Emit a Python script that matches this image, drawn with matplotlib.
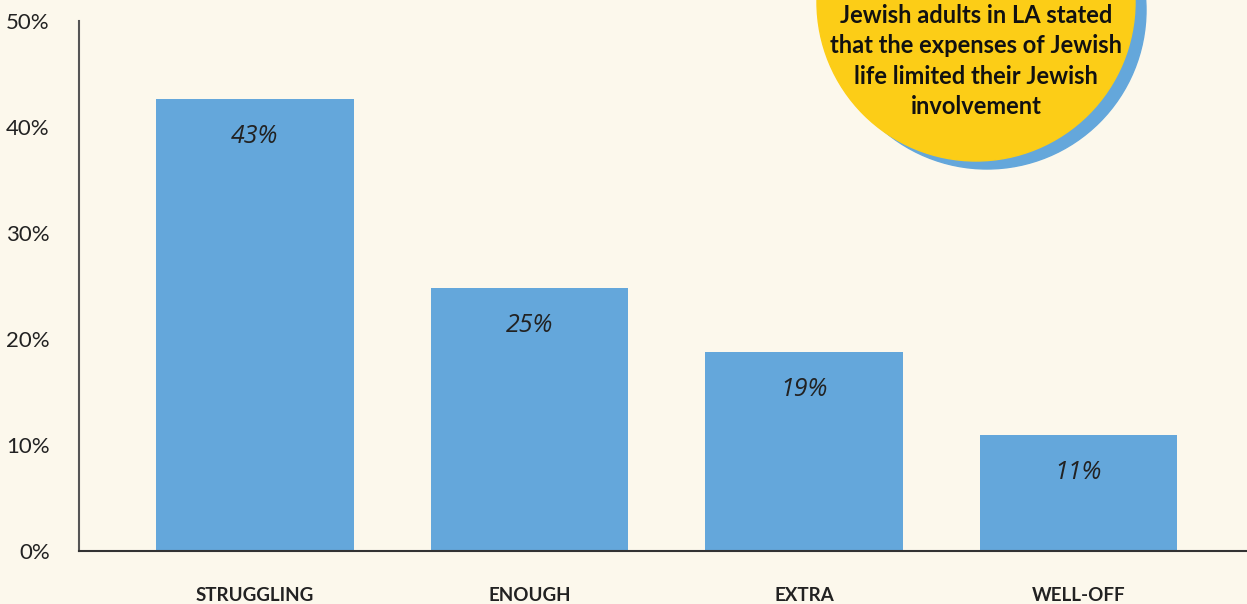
import matplotlib.pyplot as plt
from matplotlib.patches import Circle

# data
categories = ["STRUGGLING", "ENOUGH", "EXTRA", "WELL-OFF"]
values = [42.6, 24.8, 18.8, 10.9]
value_labels = ["43%", "25%", "19%", "11%"]
yticks = [0, 10, 20, 30, 40, 50]
callout_lines = ["Jewish adults in LA stated",
                 "that the expenses of Jewish",
                 "life limited their Jewish",
                 "involvement"]

bg = "#fcf8ec"
bar_color = "#64a7db"
yellow = "#fccd17"

plt.rcParams["font.family"] = ["Lato", "DejaVu Sans"]

fig = plt.figure(figsize=(12.47, 6.04), dpi=100, facecolor=bg)
ax = fig.add_axes([79 / 1247, 53 / 604, 1 - 79 / 1247, 530 / 604])
ax.set_facecolor(bg)

xlocs = list(range(len(categories)))
ax.bar(xlocs, values, width=0.72, color=bar_color, zorder=2)

for x, v, lab in zip(xlocs, values, value_labels):
    ax.annotate(lab, (x, v), xytext=(0, -27), textcoords="offset points",
                ha="center", va="center", fontsize=18, style="italic",
                color="#222222", family=["Open Sans", "DejaVu Sans"])

ax.set_xlim(-0.641, 3.614)
ax.set_ylim(0, 50)
ax.set_yticks(yticks)
ax.set_yticklabels([f"{t}%" for t in yticks], fontsize=16, color="#222222")
ax.set_xticks(xlocs)
ax.set_xticklabels(categories, fontsize=13.5, fontweight="bold", color="#222222")
ax.tick_params(axis="both", length=0)
ax.tick_params(axis="y", pad=21)
ax.tick_params(axis="x", pad=26)

for s in ["top", "right"]:
    ax.spines[s].set_visible(False)
ax.spines["left"].set_color("#555555")
ax.spines["bottom"].set_color("#333333")
ax.spines["left"].set_linewidth(1.5)
ax.spines["bottom"].set_linewidth(1.5)

# callout bubble in pixel space
ov = fig.add_axes([0, 0, 1, 1])
ov.set_xlim(0, 1247)
ov.set_ylim(604, 0)
ov.axis("off")
ov.patch.set_alpha(0)
ov.add_patch(Circle((987, 10), 159, color=bar_color))
ov.add_patch(Circle((976, 2), 159, color=yellow))
ov.text(976, 61, "\n".join(callout_lines), ha="center", va="center",
        fontsize=17, fontweight="bold", color="#111111", linespacing=1.4)

plt.savefig("out.png", dpi=100, facecolor=bg)
